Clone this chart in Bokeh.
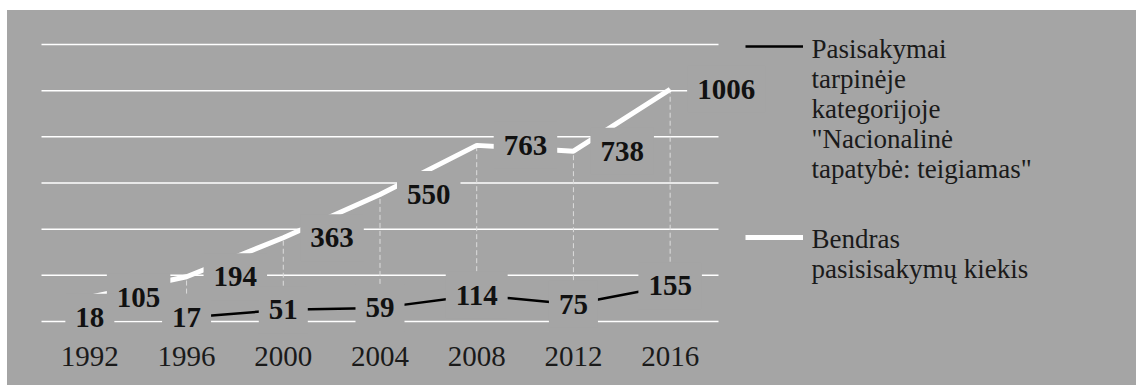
from bokeh.plotting import figure
from bokeh.models import Range1d, Legend, LegendItem, FixedTicker, ColumnDataSource
from bokeh.core.properties import value
from bokeh.embed import file_html
from bokeh.resources import INLINE

years = [1992, 1996, 2000, 2004, 2008, 2012, 2016]
total = [105, 194, 363, 550, 763, 738, 1006]
national = [18, 17, 51, 59, 114, 75, 155]
grid_ticks = [0, 200, 400, 600, 800, 1000, 1200]
grid_span = (1990, 2018)

label_national = ["Pasisakymai", "tarpinėje", "kategorijoje", '"Nacionalinė', 'tapatybė: teigiamas"']
label_total = ["Bendras", "pasisisakymų kiekis"]

BG = "#a5a5a5"
SERIF = "Liberation Serif"
W, H = 1129, 375
BOTTOM = 45

# scale: px per year, px per unit
PX_YEAR = 677 / 28.0
PX_VAL = 277 / 1200.0
x0 = 1990 - 34 / PX_YEAR
y0 = -19 / PX_VAL
frame_h = H - BOTTOM

src = ColumnDataSource(dict(
    x=years, total=total, national=national,
    total_txt=[str(v) for v in total],
    national_txt=[str(v) for v in national],
))

p = figure(width=W, height=H, x_range=Range1d(x0, x0 + W / PX_YEAR),
           y_range=Range1d(y0, y0 + frame_h / PX_VAL), output_backend="svg", toolbar_location=None,
           min_border_left=0, min_border_top=0, min_border_bottom=BOTTOM, min_border_right=0,
           margin=(10, 0, 0, 7))
p.background_fill_color = BG
p.border_fill_color = BG
p.outline_line_color = None
p.styles = {"background-color": BG}

p.yaxis.visible = False
p.xgrid.visible = False
p.ygrid.visible = False

ax = p.xaxis[0]
ax.ticker = FixedTicker(ticks=years)
ax.axis_line_color = None
ax.major_tick_line_color = None
ax.minor_tick_line_color = None
ax.major_tick_out = 0
ax.major_tick_in = 0
ax.major_label_standoff = 6
ax.major_label_text_font = SERIF
ax.major_label_text_font_size = "29px"
ax.major_label_text_color = "#1a1a1a"

# horizontal gridlines
p.segment(x0=[grid_span[0]] * len(grid_ticks), x1=[grid_span[1]] * len(grid_ticks),
          y0=grid_ticks, y1=grid_ticks, line_color="white", line_width=1.5)

# high-low lines
p.segment(x0="x", y0="national", x1="x", y1="total", source=src,
          line_color="#dcdcdc", line_width=1, line_dash="5 3")

r_total = p.line("x", "total", source=src, line_color="white", line_width=5)
r_nat = p.line("x", "national", source=src, line_color="black", line_width=2.5)

# padding = (horizontal, vertical)
p.text("x", "total", text="total_txt", source=src, x_offset=17,
       text_align="left", text_baseline="middle",
       text_font=value(SERIF), text_font_size="29px", text_font_style="bold",
       text_color="#111111", background_fill_color=BG, padding=(10, 14))
p.text("x", "national", text="national_txt", source=src,
       text_align="center", text_baseline="middle",
       text_font=value(SERIF), text_font_size="29px", text_font_style="bold",
       text_color="#111111", background_fill_color=BG, padding=(10, 14))

# legend samples (labels drawn as serif text below)
LEG_X = 745 - 7
legend = Legend(items=[LegendItem(label=label_national[0], renderers=[r_nat]),
                       LegendItem(label=label_total[0], renderers=[r_total])],
                location=(LEG_X, 88))
legend.label_text_font_size = "27px"
legend.label_text_alpha = 0
legend.glyph_width = 58
legend.glyph_height = 30
legend.label_height = 30
legend.label_standoff = 8
legend.spacing = 160
legend.padding = 0
legend.margin = 0
legend.background_fill_alpha = 0
legend.border_line_alpha = 0
p.add_layout(legend)

# legend texts
text_x = x0 + (LEG_X + 58 + 8) / PX_YEAR
leg_lines, leg_y = [], []
for lines, first_y in ((label_national, 48), (label_total, 238)):
    for i, t in enumerate(lines):
        leg_lines.append(t)
        leg_y.append((321 - (first_y + 30 * i)) / PX_VAL)
p.text(x=[text_x] * len(leg_lines), y=leg_y, text=leg_lines,
       text_align="left", text_baseline="middle",
       text_font=value(SERIF), text_font_size="27px", text_color="#1a1a1a")

open("out.html", "w").write(file_html(p, INLINE))
